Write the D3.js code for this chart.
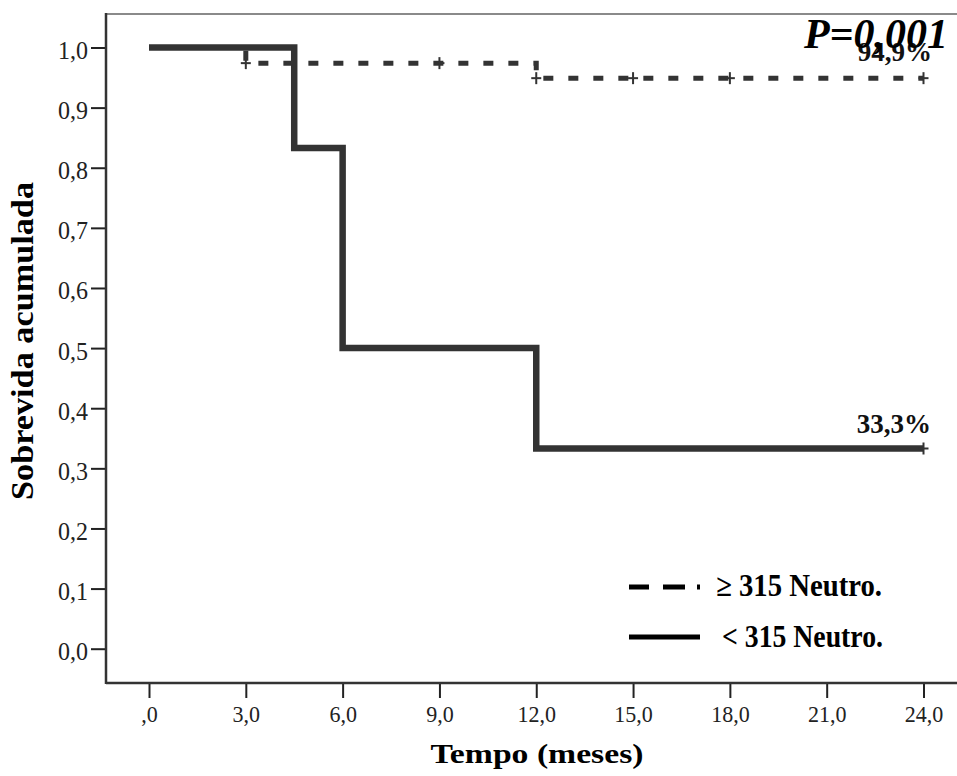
<!DOCTYPE html>
<html>
<head>
<meta charset="utf-8">
<script src="https://cdn.jsdelivr.net/npm/d3@7"></script>
<style>
  body { margin: 0; background: #fff; }
  svg { display: block; font-family: "Liberation Serif", "Times New Roman", serif; }
</style>
</head>
<body>
<div id="chart"></div>
<script>
// survival curves (Kaplan-Meier), months
const lowTimes = [0, 4.5, 6, 12, 24];
const lowSurv = [1.0, 0.833, 0.5, 0.333, 0.333];
const highTimes = [0, 3, 12, 24];
const highSurv = [1.0, 0.974, 0.949, 0.949];
// censored observations
const highCensorTimes = [3, 9, 12, 15, 18, 24];
const highCensorSurv = [0.974, 0.974, 0.949, 0.949, 0.949, 0.949];
const lowCensorTimes = [24];
const lowCensorSurv = [0.333];

const xTicks = [0, 3, 6, 9, 12, 15, 18, 21, 24];
const xTickLabels = [",0", "3,0", "6,0", "9,0", "12,0", "15,0", "18,0", "21,0", "24,0"];
const yTicks = [0, 0.1, 0.2, 0.3, 0.4, 0.5, 0.6, 0.7, 0.8, 0.9, 1.0];
const yTickLabels = ["0,0", "0,1", "0,2", "0,3", "0,4", "0,5", "0,6", "0,7", "0,8", "0,9", "1,0"];

const legendLabels = ["\u2265 315 Neutro.", "< 315 Neutro."];

const W = 957, H = 776;
const plotLeft = 106, plotTop = 14, plotBottom = 683;

// width of a number label in em (Times digits 0.5em, comma 0.25em)
const labelEm = s => s.split("").reduce((a, c) => a + (c === "," ? 0.25 : 0.5), 0);

const svg = d3.select("#chart").append("svg")
    .attr("width", W)
    .attr("height", H);

const x = d3.scaleLinear().domain([0, 24]).range([149, 923.5]);
const y = d3.scaleLinear().domain([0, 1]).range([648.7, 47.5]);

// frame
svg.append("line")
    .attr("x1", plotLeft).attr("x2", W).attr("y1", plotTop).attr("y2", plotTop)
    .attr("stroke", "#8a8a8a").attr("stroke-width", 2);

const yAxis = svg.append("g")
    .attr("transform", `translate(${plotLeft},0)`)
    .call(d3.axisLeft(y).tickValues(yTicks).tickSize(15).tickPadding(3)
        .tickFormat((d, i) => yTickLabels[i]));
yAxis.select(".domain").remove();
yAxis.selectAll(".tick line").attr("stroke", "#222").attr("stroke-width", 2);
yAxis.selectAll(".tick text")
    .attr("font-family", "Liberation Serif")
    .attr("font-size", 26).attr("fill", "#222").attr("dy", 11)
    .attr("textLength", (d, i) => labelEm(yTickLabels[i]) * 24)
    .attr("lengthAdjust", "spacingAndGlyphs");

const xAxis = svg.append("g")
    .attr("transform", `translate(0,${plotBottom})`)
    .call(d3.axisBottom(x).tickValues(xTicks).tickSize(15).tickPadding(7)
        .tickFormat((d, i) => xTickLabels[i]));
xAxis.select(".domain").remove();
xAxis.selectAll(".tick line").attr("stroke", "#222").attr("stroke-width", 2);
xAxis.selectAll(".tick text")
    .attr("font-family", "Liberation Serif")
    .attr("font-size", 24).attr("fill", "#222")
    .attr("textLength", (d, i) => labelEm(xTickLabels[i]) * 22)
    .attr("lengthAdjust", "spacingAndGlyphs");

svg.append("line")
    .attr("x1", plotLeft).attr("x2", plotLeft).attr("y1", plotTop - 1).attr("y2", plotBottom + 1)
    .attr("stroke", "#333").attr("stroke-width", 2.5);
svg.append("line")
    .attr("x1", plotLeft).attr("x2", W).attr("y1", plotBottom).attr("y2", plotBottom)
    .attr("stroke", "#333").attr("stroke-width", 2.5);

// curves
const step = d3.line()
    .x(d => x(d[0]))
    .y(d => y(d[1]))
    .curve(d3.curveStepAfter);

svg.append("path")
    .datum(highTimes.map((t, i) => [t, highSurv[i]]))
    .attr("d", step)
    .attr("fill", "none")
    .attr("stroke", "#333")
    .attr("stroke-width", 5)
    .attr("stroke-dasharray", "10,15");

svg.append("path")
    .datum(lowTimes.map((t, i) => [t, lowSurv[i]]))
    .attr("d", step)
    .attr("fill", "none")
    .attr("stroke", "#333")
    .attr("stroke-width", 6.5)
    .attr("stroke-linejoin", "miter");

// censor marks
function censor(times, surv) {
    const g = svg.append("g").attr("stroke", "#333").attr("stroke-width", 2);
    times.forEach((t, i) => {
        const cx = x(t), cy = y(surv[i]);
        g.append("line").attr("x1", cx - 5).attr("x2", cx + 5).attr("y1", cy).attr("y2", cy);
        g.append("line").attr("x1", cx).attr("x2", cx).attr("y1", cy - 6).attr("y2", cy + 6);
    });
}
censor(highCensorTimes, highCensorSurv);
censor(lowCensorTimes, lowCensorSurv);

// annotations
svg.append("text")
    .attr("x", 931).attr("y", 433)
    .attr("text-anchor", "end")
    .attr("font-size", 27).attr("font-weight", "bold")
    .attr("fill", "#111")
    .text("33,3%");

svg.append("text")
    .attr("x", 932).attr("y", 61)
    .attr("text-anchor", "end")
    .attr("font-size", 27).attr("font-weight", "bold")
    .attr("fill", "#111")
    .text("94,9%");

svg.append("text")
    .attr("x", 948).attr("y", 48)
    .attr("text-anchor", "end")
    .attr("font-size", 42).attr("font-weight", "bold").attr("font-style", "italic")
    .attr("fill", "#000")
    .text("P=0,001");

// legend
svg.append("line")
    .attr("x1", 629).attr("x2", 700).attr("y1", 587).attr("y2", 587)
    .attr("stroke", "#000").attr("stroke-width", 5)
    .attr("stroke-dasharray", "20,14,22,12,3,40");
svg.append("line")
    .attr("x1", 629).attr("x2", 700).attr("y1", 637).attr("y2", 637)
    .attr("stroke", "#000").attr("stroke-width", 5);

svg.append("text")
    .attr("x", 716).attr("y", 596)
    .attr("font-size", 31).attr("font-weight", "bold")
    .attr("textLength", 166).attr("lengthAdjust", "spacingAndGlyphs")
    .text(legendLabels[0]);
svg.append("text")
    .attr("x", 722).attr("y", 647)
    .attr("font-size", 31).attr("font-weight", "bold")
    .attr("textLength", 161).attr("lengthAdjust", "spacingAndGlyphs")
    .text(legendLabels[1]);

// axis titles
svg.append("text")
    .attr("x", 537).attr("y", 763)
    .attr("text-anchor", "middle")
    .attr("font-size", 28).attr("font-weight", "bold")
    .attr("textLength", 213).attr("lengthAdjust", "spacingAndGlyphs")
    .text("Tempo (meses)");

svg.append("text")
    .attr("transform", "translate(33,341) rotate(-90)")
    .attr("text-anchor", "middle")
    .attr("font-size", 31).attr("font-weight", "bold")
    .attr("textLength", 318).attr("lengthAdjust", "spacingAndGlyphs")
    .text("Sobrevida acumulada");
</script>
</body>
</html>
